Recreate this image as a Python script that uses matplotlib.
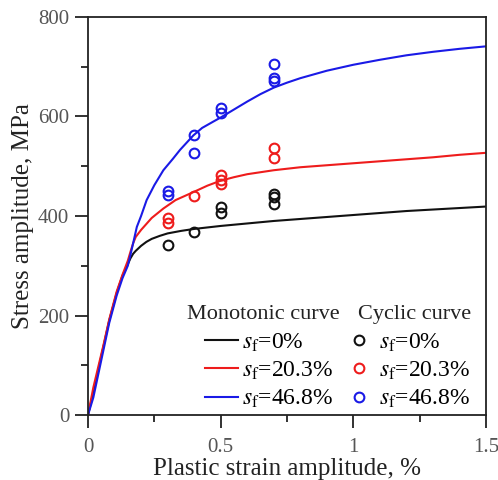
import numpy as np
import matplotlib
matplotlib.use("Agg")
import matplotlib.pyplot as plt
from matplotlib.lines import Line2D
from matplotlib.ticker import MultipleLocator, FormatStrFormatter

plt.rcParams['font.family'] = ['Liberation Serif', 'DejaVu Serif']
plt.rcParams['mathtext.fontset'] = 'stix'

# Monotonic curves (plastic strain %, stress MPa)
mono_x_0 = [0, 0.02, 0.058, 0.08, 0.108, 0.13, 0.15, 0.16, 0.17, 0.18, 0.2, 0.22, 0.24, 0.27, 0.30, 0.35, 0.4, 0.5, 0.6, 0.7, 0.8, 0.9, 1.0, 1.1, 1.2, 1.3, 1.4, 1.5]
mono_y_0 = [0, 45, 137, 190, 245, 280, 303, 315, 324, 330, 340, 348, 354, 360, 365, 370, 374, 380, 385, 390, 394, 398, 402, 406, 410, 413, 416, 419]

mono_x_20 = [0, 0.02, 0.058, 0.08, 0.108, 0.13, 0.15, 0.16, 0.17, 0.18, 0.2, 0.24, 0.284, 0.33, 0.397, 0.45, 0.5, 0.55, 0.6, 0.7, 0.8, 0.9, 1.0, 1.1, 1.2, 1.3, 1.4, 1.5]
mono_y_20 = [0, 55, 140, 192, 248, 282, 310, 328, 345, 358, 372, 396, 415, 432, 448, 461, 471, 478, 484, 492, 498, 502, 506, 510, 514, 518, 523, 527]

mono_x_47 = [0, 0.02, 0.058, 0.08, 0.108, 0.13, 0.15, 0.16, 0.17, 0.184, 0.2, 0.221, 0.25, 0.284, 0.32, 0.347, 0.397, 0.43, 0.473, 0.5, 0.55, 0.6, 0.65, 0.7, 0.75, 0.8, 0.9, 1.0, 1.1, 1.2, 1.3, 1.4, 1.5]
mono_y_47 = [0, 35, 130, 185, 240, 275, 300, 322, 345, 378, 400, 432, 462, 492, 515, 533, 562, 577, 590, 598, 614, 630, 645, 658, 668, 677, 692, 704, 714, 723, 730, 736, 741]

# Cyclic data
cyc_x_0 = [0.3, 0.4, 0.5, 0.5, 0.7, 0.7, 0.7]
cyc_y_0 = [342, 368, 418, 406, 444, 438, 424]

cyc_x_20 = [0.3, 0.3, 0.4, 0.5, 0.5, 0.5, 0.7, 0.7]
cyc_y_20 = [396, 386, 440, 482, 472, 464, 537, 517]

cyc_x_47 = [0.3, 0.3, 0.4, 0.4, 0.5, 0.5, 0.7, 0.7, 0.7]
cyc_y_47 = [450, 442, 563, 527, 617, 607, 705, 677, 671]

labels = [r'$s_\mathrm{f}$=0%', r'$s_\mathrm{f}$=20.3%', r'$s_\mathrm{f}$=46.8%']
colors = ['#111111', '#ee1c1c', '#1a1ae6']

fig = plt.figure(figsize=(4.98, 4.80), dpi=100)
ax = fig.add_axes([0.1767, 0.1354, 0.7993, 0.8292])

for xs, ys, c in zip([mono_x_0, mono_x_20, mono_x_47], [mono_y_0, mono_y_20, mono_y_47], colors):
    ax.plot(xs, ys, color=c, lw=1.5)
for xs, ys, c in zip([cyc_x_0, cyc_x_20, cyc_x_47], [cyc_y_0, cyc_y_20, cyc_y_47], colors):
    ax.plot(xs, ys, 'o', mfc='none', mec=c, mew=1.5, ms=7, ls='none')

ax.set_xlim(0, 1.5)
ax.set_ylim(0, 800)
ax.xaxis.set_major_locator(MultipleLocator(0.5))
ax.xaxis.set_minor_locator(MultipleLocator(0.25))
ax.yaxis.set_major_locator(MultipleLocator(200))
ax.yaxis.set_minor_locator(MultipleLocator(100))
ax.xaxis.set_major_formatter(FormatStrFormatter('%g'))
ax.tick_params(which='major', direction='out', length=9.5, width=1.3, labelsize=15, colors='#222222', labelcolor='#555555')
ax.tick_params(which='minor', direction='out', length=5, width=1.3, colors='#222222')
ax.tick_params(axis='x', which='major', pad=7)
ax.tick_params(axis='y', which='major', pad=4)
ax.tick_params(top=False, right=False, which='both')
for s in ax.spines.values():
    s.set_linewidth(1.3)
    s.set_color('#222222')

ax.set_xlabel('Plastic strain amplitude, %', fontsize=18, color='#222222', labelpad=1)
ax.set_ylabel('Stress amplitude, MPa', fontsize=18, color='#222222', labelpad=3)

# Legend column titles
ax.text(0.249, 0.252, 'Monotonic curve', transform=ax.transAxes, fontsize=16,
        color='#222222', ha='left', va='center')
ax.text(0.678, 0.252, 'Cyclic curve', transform=ax.transAxes, fontsize=16,
        color='#222222', ha='left', va='center')

h_mono = [Line2D([], [], color=c, lw=1.5) for c in colors]
h_cyc = [Line2D([], [], marker='o', mfc='none', mec=c, mew=1.5, ms=7, ls='none') for c in colors]
leg1 = ax.legend(h_mono, labels, frameon=False, fontsize=17,
                 loc='lower left', bbox_to_anchor=(0.294, 0.012),
                 handlelength=1.4, handletextpad=0.15, labelspacing=0.25, borderaxespad=0, borderpad=0)
ax.add_artist(leg1)
leg2 = ax.legend(h_cyc, labels, frameon=False, fontsize=17,
                 loc='lower left', bbox_to_anchor=(0.661, 0.012),
                 handlelength=0.7, handletextpad=0.5, labelspacing=0.25, borderaxespad=0, borderpad=0)

fig.savefig('out.png', dpi=100)
